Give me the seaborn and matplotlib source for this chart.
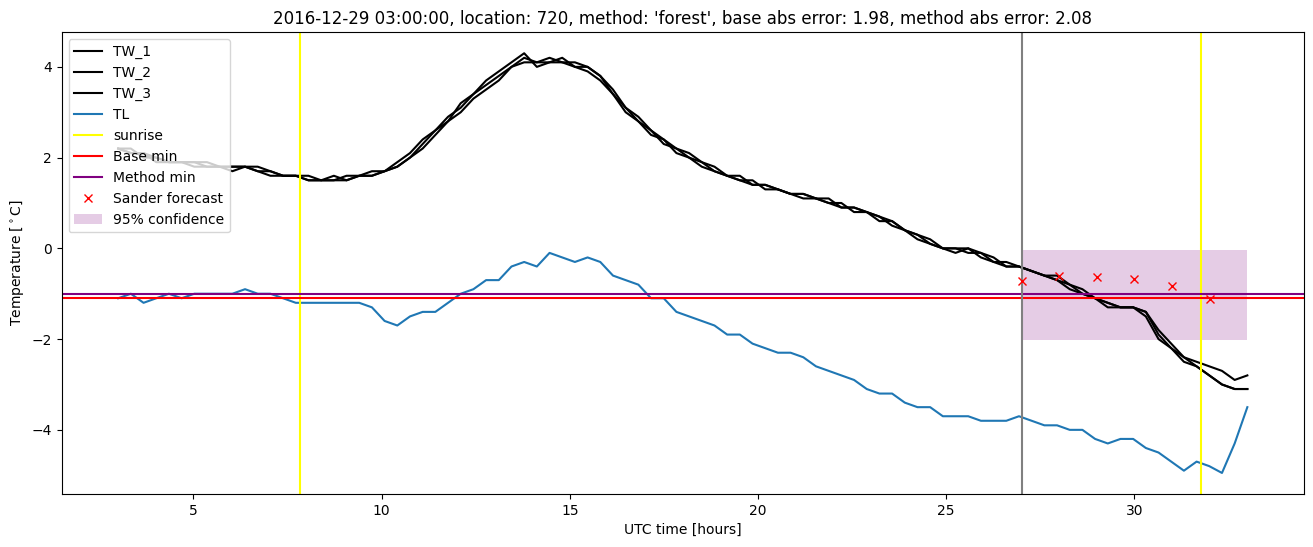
import numpy as np
import matplotlib
matplotlib.use("Agg")
import matplotlib.pyplot as plt
import seaborn as sns

# --- data (20 min resolution, 03:00 -> 33:00 UTC) ---
TW_1 = [2.2, 2.1, 2.1, 2.0, 1.9, 1.9, 1.9, 1.9, 1.8, 1.8,
        1.8, 1.8, 1.7, 1.6, 1.6, 1.6, 1.5, 1.5, 1.5, 1.6,
        1.6, 1.7, 1.8, 2.0, 2.3, 2.6, 2.9, 3.1, 3.4, 3.6,
        3.8, 4.0, 4.2, 4.1, 4.2, 4.1, 4.0, 4.0, 3.8, 3.4,
        3.1, 2.8, 2.6, 2.4, 2.2, 2.0, 1.9, 1.7, 1.6, 1.5,
        1.4, 1.4, 1.3, 1.2, 1.2, 1.1, 1.0, 0.9, 0.9, 0.8,
        0.7, 0.6, 0.4, 0.3, 0.1, 0.0, 0.0, 0.0, -0.1, -0.3,
        -0.4, -0.4, -0.5, -0.6, -0.7, -0.8, -1.0, -1.1, -1.2, -1.3,
        -1.3, -1.4, -1.9, -2.2, -2.4, -2.6, -2.8, -3.0, -3.1, -3.1]
TW_2 = [2.2, 2.2, 2.0, 2.0, 1.9, 1.9, 1.9, 1.8, 1.8, 1.8,
        1.8, 1.7, 1.7, 1.6, 1.6, 1.5, 1.5, 1.5, 1.6, 1.6,
        1.6, 1.7, 1.9, 2.1, 2.4, 2.6, 2.8, 3.2, 3.4, 3.7,
        3.9, 4.1, 4.3, 4.0, 4.1, 4.2, 4.0, 3.9, 3.7, 3.4,
        3.0, 2.8, 2.5, 2.4, 2.1, 2.0, 1.8, 1.7, 1.6, 1.5,
        1.5, 1.3, 1.3, 1.2, 1.1, 1.1, 1.0, 1.0, 0.8, 0.8,
        0.7, 0.5, 0.4, 0.2, 0.1, 0.0, -0.1, 0.0, -0.2, -0.3,
        -0.3, -0.4, -0.5, -0.6, -0.7, -0.9, -1.0, -1.1, -1.3, -1.3,
        -1.3, -1.5, -2.0, -2.2, -2.5, -2.6, -2.8, -3.0, -3.1, -3.1]
TW_3 = [2.2, 2.1, 2.1, 1.9, 1.9, 1.9, 1.8, 1.8, 1.8, 1.7,
        1.8, 1.7, 1.6, 1.6, 1.6, 1.5, 1.5, 1.6, 1.5, 1.6,
        1.7, 1.7, 1.8, 2.0, 2.2, 2.5, 2.8, 3.0, 3.3, 3.5,
        3.7, 4.0, 4.1, 4.1, 4.1, 4.1, 4.1, 4.0, 3.8, 3.5,
        3.1, 2.9, 2.6, 2.3, 2.2, 2.1, 1.9, 1.8, 1.6, 1.6,
        1.4, 1.4, 1.3, 1.2, 1.2, 1.1, 1.1, 0.9, 0.9, 0.8,
        0.6, 0.6, 0.4, 0.3, 0.2, 0.0, 0.0, -0.1, -0.1, -0.2,
        -0.4, -0.4, -0.5, -0.6, -0.6, -0.8, -0.9, -1.1, -1.2, -1.3,
        -1.3, -1.4, -1.8, -2.1, -2.4, -2.5, -2.6, -2.7, -2.9, -2.8]
TL = [-1.1, -1.0, -1.2, -1.1, -1.0, -1.1, -1.0, -1.0, -1.0, -1.0,
      -0.9, -1.0, -1.0, -1.1, -1.2, -1.2, -1.2, -1.2, -1.2, -1.2,
      -1.3, -1.6, -1.7, -1.5, -1.4, -1.4, -1.2, -1.0, -0.9, -0.7,
      -0.7, -0.4, -0.3, -0.4, -0.1, -0.2, -0.3, -0.2, -0.3, -0.6,
      -0.7, -0.8, -1.1, -1.1, -1.4, -1.5, -1.6, -1.7, -1.9, -1.9,
      -2.1, -2.2, -2.3, -2.3, -2.4, -2.6, -2.7, -2.8, -2.9, -3.1,
      -3.2, -3.2, -3.4, -3.5, -3.5, -3.7, -3.7, -3.7, -3.8, -3.8,
      -3.8, -3.7, -3.8, -3.9, -3.9, -4.0, -4.0, -4.2, -4.3, -4.2,
      -4.2, -4.4, -4.5, -4.7, -4.9, -4.7, -4.8, -4.95, -4.3, -3.5]
hours = np.linspace(3.0, 33.0, len(TL))

sunrise = [7.83, 31.78]
base_min = -1.1
method_min = -1.0
forecast_start = 27.0
forecast_hours = [27, 28, 29, 30, 31, 32]
sander_forecast = [-0.72, -0.60, -0.64, -0.68, -0.84, -1.12]
conf_hours = [27.0, 33.0]
conf_low = -2.02
conf_high = -0.04

title = ("2016-12-29 03:00:00, location: 720, method: 'forest', "
         "base abs error: 1.98, method abs error: 2.08")

# --- plot ---
fig, ax = plt.subplots(figsize=(13.13, 5.47), dpi=100)
fig.subplots_adjust(left=0.047, right=0.993, top=0.941, bottom=0.097)

for name, vals in [("TW_1", TW_1), ("TW_2", TW_2), ("TW_3", TW_3)]:
    sns.lineplot(x=hours, y=vals, color="black", label=name, ax=ax)
sns.lineplot(x=hours, y=TL, color="C0", label="TL", ax=ax)

ax.axvline(sunrise[0], color="yellow", label="sunrise")
ax.axvline(sunrise[1], color="yellow")
ax.axhline(base_min, color="red", label="Base min")
ax.axhline(method_min, color="purple", label="Method min")
ax.axvline(forecast_start, color="grey")
ax.plot(forecast_hours, sander_forecast, "x", color="red", label="Sander forecast")
ax.fill_between(conf_hours, conf_low, conf_high, color="purple", alpha=0.2,
                linewidth=0, label="95% confidence")

ax.set_title(title)
ax.set_xlabel("UTC time [hours]")
ax.set_ylabel("Temperature [$^\\circ$C]")
ax.legend(loc="upper left")

plt.savefig("out.png", dpi=100)
